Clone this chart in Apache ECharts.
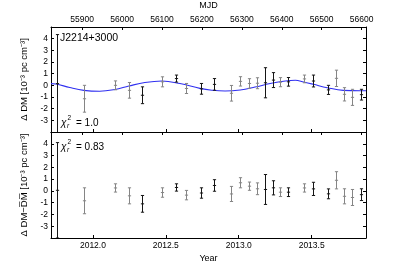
<!DOCTYPE html>
<html><head><meta charset="utf-8">
<script src="https://cdn.jsdelivr.net/npm/echarts@6/dist/echarts.min.js"></script>
<style>html,body{margin:0;padding:0;background:#fff}#c{width:407px;height:265px}</style>
</head><body><div id="c"></div>
<script>
// ---- data ----
const mjd = [55837,55904,55982,56017,56051,56099,56134,56160,56197,56231,56273,56296,56317,56339,56357,56377,56396,56416,56455,56477,56517,56537,56555,56576,56598];
const dmVal = [0.15,-1.15,0.0,-0.43,-0.85,0.3,0.58,-0.27,-0.3,0.08,-0.68,0.34,0.16,0.18,0.22,0.45,0.27,0.3,0.55,0.37,-0.39,0.6,-0.77,-1.03,-0.8];
const dmErr = [4.2,1.15,0.38,0.67,0.72,0.43,0.3,0.43,0.46,0.5,0.67,0.4,0.41,0.47,1.29,0.64,0.39,0.37,0.33,0.51,0.39,0.7,0.57,0.69,0.46];
const resVal = [0.05,-0.84,0.25,-0.42,-1.1,-0.14,0.29,-0.36,-0.18,0.46,-0.26,0.69,0.4,0.18,0.12,0.26,-0.11,-0.11,0.25,0.17,-0.25,0.9,-0.46,-0.56,-0.32];
const resErr = [4.05,1.1,0.35,0.68,0.71,0.4,0.31,0.4,0.44,0.49,0.64,0.43,0.35,0.5,1.27,0.6,0.37,0.37,0.35,0.56,0.42,0.73,0.64,0.68,0.5];
const darkFlag = [1,0,0,0,1,0,1,0,1,1,0,0,0,0,1,1,0,1,0,1,1,0,0,0,1];
const modelMjd = [55822,55834,55869,55904,55944,55982,56017,56057,56100,56145,56195,56225,56258,56296,56333,56371,56409,56434,56455,56479,56514,56554,56597,56611];
const modelVal = [0.15,0.12,-0.19,-0.43,-0.51,-0.36,-0.06,0.24,0.37,0.15,-0.26,-0.42,-0.49,-0.4,-0.15,0.15,0.37,0.43,0.28,0.09,-0.2,-0.43,-0.46,-0.46];
const mjdTicks = [55900,56000,56100,56200,56300,56400,56500,56600];
const yearTicks = [2012.0,2012.5,2013.0,2013.5];
const yTickLabels = [-3,-2,-1,0,1,2,3,4];
const mjdRange = [55822,56611];
const mjdOfYear2012 = 55927;

const yr = m => 2012 + (m - mjdOfYear2012) / 365.25;
const FONT = 'Liberation Sans, Arial, sans-serif';

function errItem(params, api){
  const x = api.value(0), y = api.value(1), e = api.value(2), d = api.value(3);
  const c = api.coord([x, y]);
  const t = api.coord([x, y + e]);
  const b = api.coord([x, y - e]);
  const px = Math.round(c[0]) + 0.5;
  const col = d ? '#151515' : '#858585';
  const st = {stroke: col, lineWidth: 1};
  const hw = 1.6;
  return {type: 'group', children: [
    {type: 'line', shape: {x1: px, y1: t[1], x2: px, y2: b[1]}, style: st},
    {type: 'line', shape: {x1: px - hw, y1: t[1], x2: px + hw, y2: t[1]}, style: st},
    {type: 'line', shape: {x1: px - hw, y1: b[1], x2: px + hw, y2: b[1]}, style: st},
    {type: 'line', shape: {x1: px - hw, y1: c[1], x2: px + hw, y2: c[1]}, style: st}
  ]};
}

const axLine = {show: true, onZero: false, lineStyle: {color: '#000', width: 1}};
const lblStyle = {fontFamily: FONT, fontSize: 8.5, color: '#000'};

function yAx(gi, pos, showLbl, name){
  return {
    type: 'value', gridIndex: gi, position: pos, min: -4, max: 5, interval: 1,
    axisLine: axLine, splitLine: {show: false},
    axisTick: {show: true, inside: true, length: 3, lineStyle: {color: '#000'}},
    axisLabel: {show: showLbl, margin: 3, ...lblStyle, customValues: yTickLabels},
    name: name || '', nameLocation: 'middle', nameGap: 10, nameRotate: 90,
    nameTextStyle: {fontFamily: FONT, fontSize: 9.5, color: '#000'}
  };
}

const chart = echarts.init(document.getElementById('c'), null, {renderer: 'canvas'});
chart.setOption({
  animation: false,
  backgroundColor: '#fff',
  grid: [
    {left: 51, top: 27, width: 315, height: 105},
    {left: 51, top: 132, width: 315, height: 106}
  ],
  xAxis: [
    {type: 'value', gridIndex: 0, position: 'top', min: mjdRange[0], max: mjdRange[1],
     axisLine: axLine, splitLine: {show: false},
     axisTick: {show: true, inside: true, length: 3, customValues: mjdTicks, lineStyle: {color: '#000'}},
     axisLabel: {show: true, margin: 3, ...lblStyle, customValues: mjdTicks, formatter: v => String(Math.round(v))},
     name: 'MJD', nameLocation: 'middle', nameGap: 17,
     nameTextStyle: {fontFamily: FONT, fontSize: 9, color: '#000'}},
    {type: 'value', gridIndex: 0, position: 'bottom', min: yr(mjdRange[0]), max: yr(mjdRange[1]),
     axisLine: axLine, splitLine: {show: false},
     axisTick: {show: true, inside: true, length: 3, customValues: yearTicks, lineStyle: {color: '#000'}},
     axisLabel: {show: false}},
    {type: 'value', gridIndex: 1, position: 'top', min: mjdRange[0], max: mjdRange[1],
     axisLine: axLine, splitLine: {show: false},
     axisTick: {show: true, inside: true, length: 3, customValues: mjdTicks, lineStyle: {color: '#000'}},
     axisLabel: {show: false}},
    {type: 'value', gridIndex: 1, position: 'bottom', min: yr(mjdRange[0]), max: yr(mjdRange[1]),
     axisLine: axLine, splitLine: {show: false},
     axisTick: {show: true, inside: true, length: 3, customValues: yearTicks, lineStyle: {color: '#000'}},
     axisLabel: {show: true, margin: 3, ...lblStyle, customValues: yearTicks, formatter: v => v.toFixed(1)},
     name: 'Year', nameLocation: 'middle', nameGap: 16,
     nameTextStyle: {fontFamily: FONT, fontSize: 9, color: '#000'}}
  ],
  yAxis: [
    yAx(0, 'left', true, 'Δ DM [10⁻³ pc cm⁻³]'),
    yAx(0, 'right', false),
    yAx(1, 'left', true, 'Δ DM−D̅M̅ [10⁻³ pc cm⁻³]'),
    yAx(1, 'right', false)
  ],
  series: [
    {type: 'line', xAxisIndex: 0, yAxisIndex: 0, smooth: 0.4, showSymbol: false,
     data: modelMjd.map((m, i) => [m, modelVal[i]]),
     lineStyle: {color: '#3030f0', width: 1.1}, z: 2},
    {type: 'custom', xAxisIndex: 0, yAxisIndex: 0, clip: true, renderItem: errItem,
     data: mjd.map((m, i) => [m, dmVal[i], dmErr[i], darkFlag[i]]), z: 3},
    {type: 'custom', xAxisIndex: 2, yAxisIndex: 2, clip: true, renderItem: errItem,
     data: mjd.map((m, i) => [m, resVal[i], resErr[i], darkFlag[i]]), z: 3}
  ],
  graphic: [
    {type: 'text', left: 60, top: 33, style: {text: 'J2214+3000', font: '10.5px ' + FONT, fill: '#000'}},
    {type: 'group', left: 61, top: 115, children: [
      {type: 'text', x: 0, y: 0, style: {text: 'χ', font: 'italic 10px ' + FONT, fill: '#000'}},
      {type: 'text', x: 6, y: 5, style: {text: 'r', font: 'italic 6.5px ' + FONT, fill: '#000'}},
      {type: 'text', x: 6.5, y: -3, style: {text: '2', font: '6.5px ' + FONT, fill: '#000'}},
      {type: 'text', x: 15, y: 0, style: {text: '= 1.0', font: '10px ' + FONT, fill: '#000'}}
    ]},
    {type: 'group', left: 61, top: 139, children: [
      {type: 'text', x: 0, y: 0, style: {text: 'χ', font: 'italic 10px ' + FONT, fill: '#000'}},
      {type: 'text', x: 6, y: 5, style: {text: 'r', font: 'italic 6.5px ' + FONT, fill: '#000'}},
      {type: 'text', x: 6.5, y: -3, style: {text: '2', font: '6.5px ' + FONT, fill: '#000'}},
      {type: 'text', x: 15, y: 0, style: {text: '= 0.83', font: '10px ' + FONT, fill: '#000'}}
    ]}
  ]
});
</script></body></html>
